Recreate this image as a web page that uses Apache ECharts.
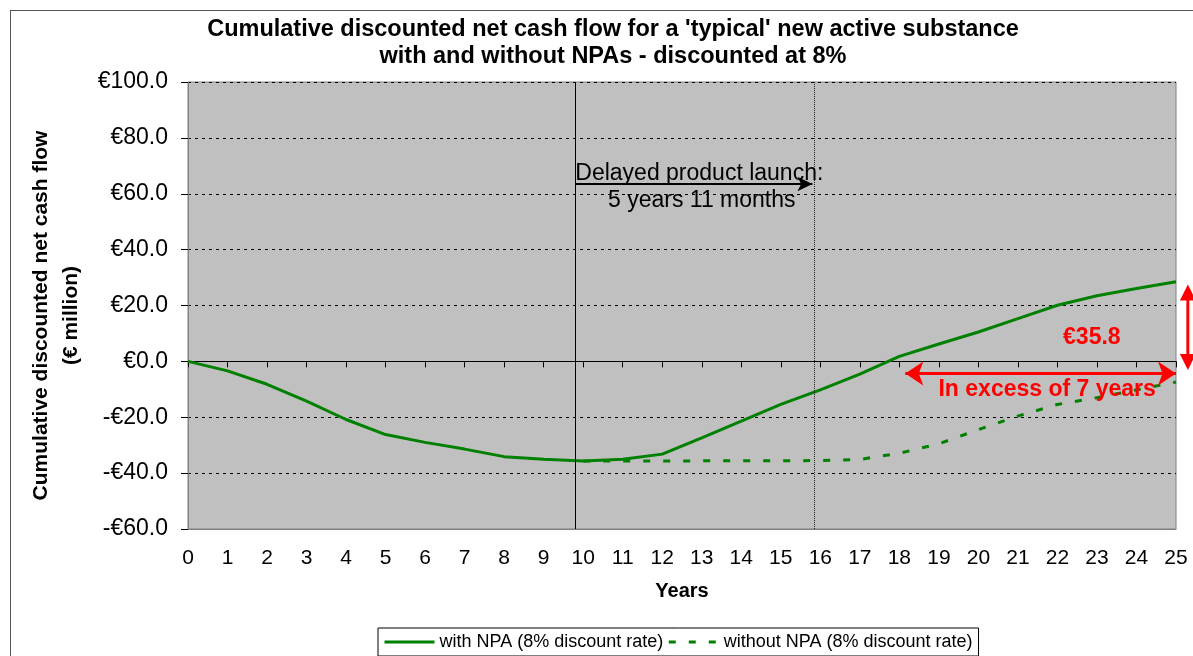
<!DOCTYPE html>
<html>
<head>
<meta charset="utf-8">
<script src="https://cdn.jsdelivr.net/npm/echarts@6/dist/echarts.min.js"></script>
<style>
	html, body{margin:0;padding:0;background:#fff;}
	#frame{position:absolute;left:10px;top:10px;width:1400px;height:900px;border:1px solid #555;}
	#main{position:absolute;left:0;top:0;width:1193px;height:656px;}
</style>
</head>
<body>
<div id="frame"></div>
<div id="main"></div>
<script>
	// years 0..25
	var years = [0,1,2,3,4,5,6,7,8,9,10,11,12,13,14,15,16,17,18,19,20,21,22,23,24,25];
	var withNpa = [0,-3.4,-8.2,-14.2,-20.8,-26.2,-29.0,-31.4,-34.1,-35.0,-35.7,-35.0,-33.2,-27.4,-21.4,-15.4,-10.2,-4.6,1.8,6.2,10.5,15.3,20.1,23.5,26.1,28.5];
	// without NPA only drawn from year 10
	var withoutNpa = [null,null,null,null,null,null,null,null,null,null,-35.7,-35.7,-35.7,-35.6,-35.6,-35.6,-35.5,-35.1,-32.9,-29.5,-24.4,-19.6,-15.4,-13.0,-10.2,-7.4];
	var yTicks = [-60,-40,-20,0,20,40,60,80,100];

	// annotations (in data units)
	var launchStart = 9.8, launchEnd = 15.85;
	var excessArrow = {from: 18.15, to: 25, y: -4.3};
	var gapArrow = {x: 25.3, top: 27.5, bottom: -3.1};

	var font = 'Liberation Sans, Arial, sans-serif';
	var green = '#008000', red = '#ff0000';

	function pairs(vals){
		var out = [];
		for (var i = 0; i < years.length; i++) out.push([years[i], vals[i]]);
		return out;
	}
	function euro(v){
		return (v < 0 ? '-€' : '€') + Math.abs(v).toFixed(1);
	}

	var myChart = echarts.init(document.getElementById('main'));
	var option = {
		animation: false,
		title: {
			text: "Cumulative discounted net cash flow for a 'typical' new active substance\nwith and without NPAs - discounted at 8%",
			left: 608,
			textAlign: 'center',
			top: 11,
			textStyle: {fontFamily: font, fontSize: 23.5, fontWeight: 'bold', lineHeight: 27, color: '#000'}
		},
		legend: {
			left: 378,
			top: 628,
			padding: [5, 6, 5, 5],
			borderColor: '#000',
			borderWidth: 1,
			backgroundColor: '#fff',
			itemGap: 4,
			itemWidth: 50,
			itemHeight: 14,
			itemStyle: {opacity: 0},
			lineStyle: {width: 3},
			textStyle: {fontFamily: font, fontSize: 18, color: '#000'},
			data: ['with NPA (8% discount rate)', 'without NPA (8% discount rate)']
		},
		grid: {
			left: 188, right: 17, top: 82, bottom: 127,
			show: true,
			backgroundColor: '#c0c0c0',
			borderColor: '#808080',
			borderWidth: 1
		},
		xAxis: [{
			type: 'value',
			min: 0, max: 25, interval: 1,
			name: 'Years',
			nameLocation: 'middle',
			nameGap: 52,
			nameTextStyle: {fontFamily: font, fontSize: 20, fontWeight: 'bold', color: '#000'},
			axisLine: {onZero: false, lineStyle: {color: '#808080'}},
			axisTick: {show: false},
			axisLabel: {fontFamily: font, fontSize: 21, color: '#000', margin: 19},
			splitLine: {show: false}
		},{
			// zero line with year ticks
			type: 'value',
			position: 'bottom',
			min: 0, max: 25, interval: 1,
			axisLine: {onZero: true, lineStyle: {color: '#000', width: 1}},
			axisTick: {show: true, length: 6, lineStyle: {color: '#000'}},
			axisLabel: {show: false},
			splitLine: {show: false}
		}],
		yAxis: {
			type: 'value',
			min: yTicks[0], max: yTicks[yTicks.length - 1], interval: 20,
			name: 'Cumulative discounted net cash flow\n(€ million)',
			nameLocation: 'middle',
			nameGap: 102,
			nameTextStyle: {fontFamily: font, fontSize: 21, fontWeight: 'bold', color: '#000', lineHeight: 30, padding: [0, 20, 0, 0]},
			axisLine: {show: true, lineStyle: {color: '#808080'}},
			axisTick: {show: true, length: 7, lineStyle: {color: '#000'}},
			axisLabel: {fontFamily: font, fontSize: 23, color: '#000', margin: 20, formatter: euro},
			splitLine: {lineStyle: {color: '#000', type: [3, 4], width: 1}}
		},
		series: [{
			name: 'with NPA (8% discount rate)',
			type: 'line',
			data: pairs(withNpa),
			symbol: 'none',
			clip: false,
			lineStyle: {color: green, width: 3},
			itemStyle: {color: green},
			z: 3,
			markLine: {
				silent: true,
				symbol: 'none',
				label: {show: false},
				data: [
					[{coord: [launchStart, yTicks[yTicks.length - 1]], lineStyle: {color: '#000', width: 1, type: 'solid'}},
					 {coord: [launchStart, yTicks[0]]}],
					[{coord: [launchEnd, yTicks[yTicks.length - 1]], lineStyle: {color: '#222', width: 1, type: [1, 1]}},
					 {coord: [launchEnd, yTicks[0]]}],
					[{coord: [launchStart, 63.5], symbol: 'none', lineStyle: {color: '#000', width: 2, type: 'solid'}},
					 {coord: [launchEnd - 0.05, 63.5], symbol: 'arrow', symbolSize: [11, 15]}],
					[{coord: [excessArrow.from, excessArrow.y], symbol: 'arrow', symbolSize: [18, 18], lineStyle: {color: red, width: 3, type: 'solid'}},
					 {coord: [excessArrow.to, excessArrow.y], symbol: 'arrow', symbolSize: [18, 18]}]
				]
			},
			markPoint: {
				silent: true,
				symbol: 'circle',
				symbolSize: 0,
				data: [
					{coord: [launchStart, 67.1], label: {show: true, position: 'right', distance: 0, formatter: 'Delayed product launch:', fontFamily: font, fontSize: 23, color: '#000'}},
					{coord: [13.0, 57.6], label: {show: true, position: 'inside', formatter: '5 years 11 months', fontFamily: font, fontSize: 23, color: '#000'}},
					{coord: [22.87, 8.4], label: {show: true, position: 'inside', formatter: '€35.8', fontFamily: font, fontSize: 23, fontWeight: 'bold', color: red}},
					{coord: [21.74, -10.2], label: {show: true, position: 'inside', formatter: 'In excess of 7 years', fontFamily: font, fontSize: 23, fontWeight: 'bold', color: red}}
				]
			}
		},{
			name: 'without NPA (8% discount rate)',
			type: 'line',
			data: pairs(withoutNpa),
			symbol: 'none',
			lineStyle: {color: green, width: 3, type: [7, 13]},
			itemStyle: {color: green},
			z: 2
		}]
	};
	myChart.setOption(option);

	// vertical red arrow just right of the plot, placed through the axis scales
	var pTop = myChart.convertToPixel({gridIndex: 0}, [gapArrow.x, gapArrow.top]);
	var pBot = myChart.convertToPixel({gridIndex: 0}, [gapArrow.x, gapArrow.bottom]);
	var ax = pTop[0], ah = 16, aw = 8;
	myChart.setOption({
		graphic: [
			{type: 'line', shape: {x1: ax, y1: pTop[1] + ah - 2, x2: ax, y2: pBot[1] - ah + 2}, style: {stroke: red, lineWidth: 3}},
			{type: 'polygon', shape: {points: [[ax, pTop[1]], [ax - aw, pTop[1] + ah], [ax + aw, pTop[1] + ah]]}, style: {fill: red}},
			{type: 'polygon', shape: {points: [[ax, pBot[1]], [ax - aw, pBot[1] - ah], [ax + aw, pBot[1] - ah]]}, style: {fill: red}}
		]
	});
</script>
</body>
</html>
